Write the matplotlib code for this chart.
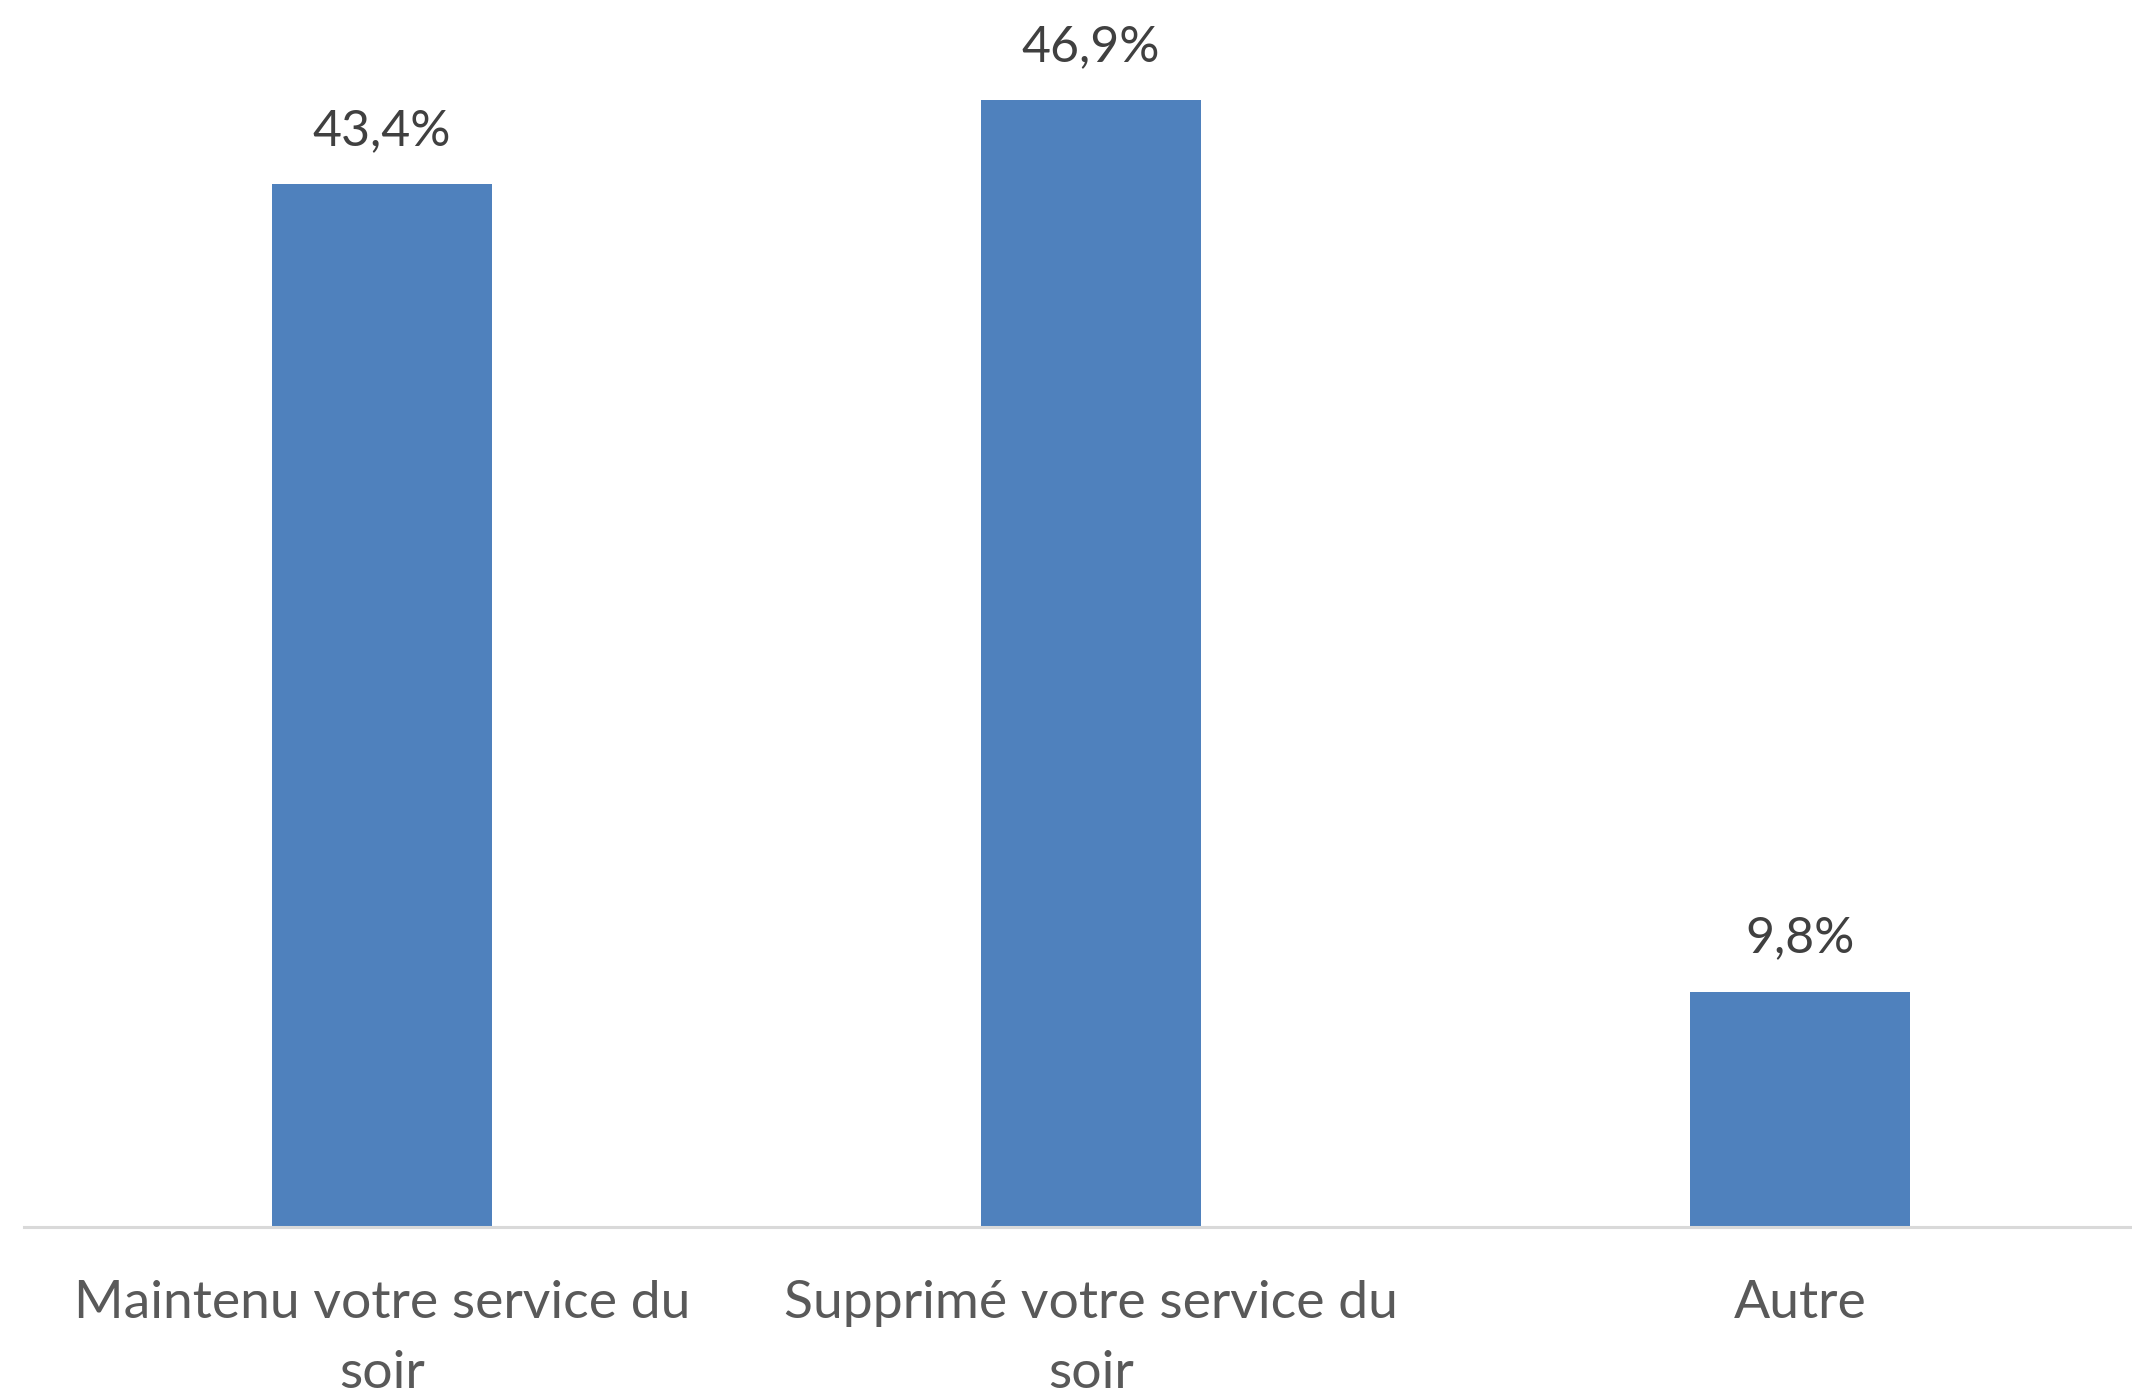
import matplotlib as mpl
mpl.use('Agg')
import matplotlib.pyplot as plt

categories = ["Maintenu votre service du\nsoir", "Supprimé votre service du\nsoir", "Autre"]
values = [43.4, 46.9, 9.8]

bar_color = '#4F81BD'
plt.rcParams['font.family'] = ['Lato', 'DejaVu Sans']

fig = plt.figure(figsize=(21.32, 13.91), dpi=100)
ax = fig.add_axes([0.0113, 0.1179, 0.9887, 0.8821])

x = list(range(len(categories)))
bars = ax.bar(x, values, width=0.31, color=bar_color, zorder=2)

# data labels above each bar, french decimal comma
for rect, v in zip(bars, values):
    label = ('%.1f' % v).replace('.', ',') + '%'
    ax.annotate(label, (rect.get_x() + rect.get_width() / 2, v),
                xytext=(0, 22), textcoords='offset points',
                ha='center', va='bottom', fontsize=36, color='#404040')

ax.set_xlim(-0.505, 2.468)
ax.set_ylim(0, 51.08)
ax.set_xticks(x)
ax.set_xticklabels(categories, fontsize=38.5, color='#595959', linespacing=1.6)
ax.tick_params(axis='x', length=0, pad=38)
ax.set_yticks([])

for side in ['top', 'left', 'right']:
    ax.spines[side].set_visible(False)
ax.spines['bottom'].set_color('#D9D9D9')
ax.spines['bottom'].set_linewidth(2.2)

fig.savefig('out.png', dpi=100)
